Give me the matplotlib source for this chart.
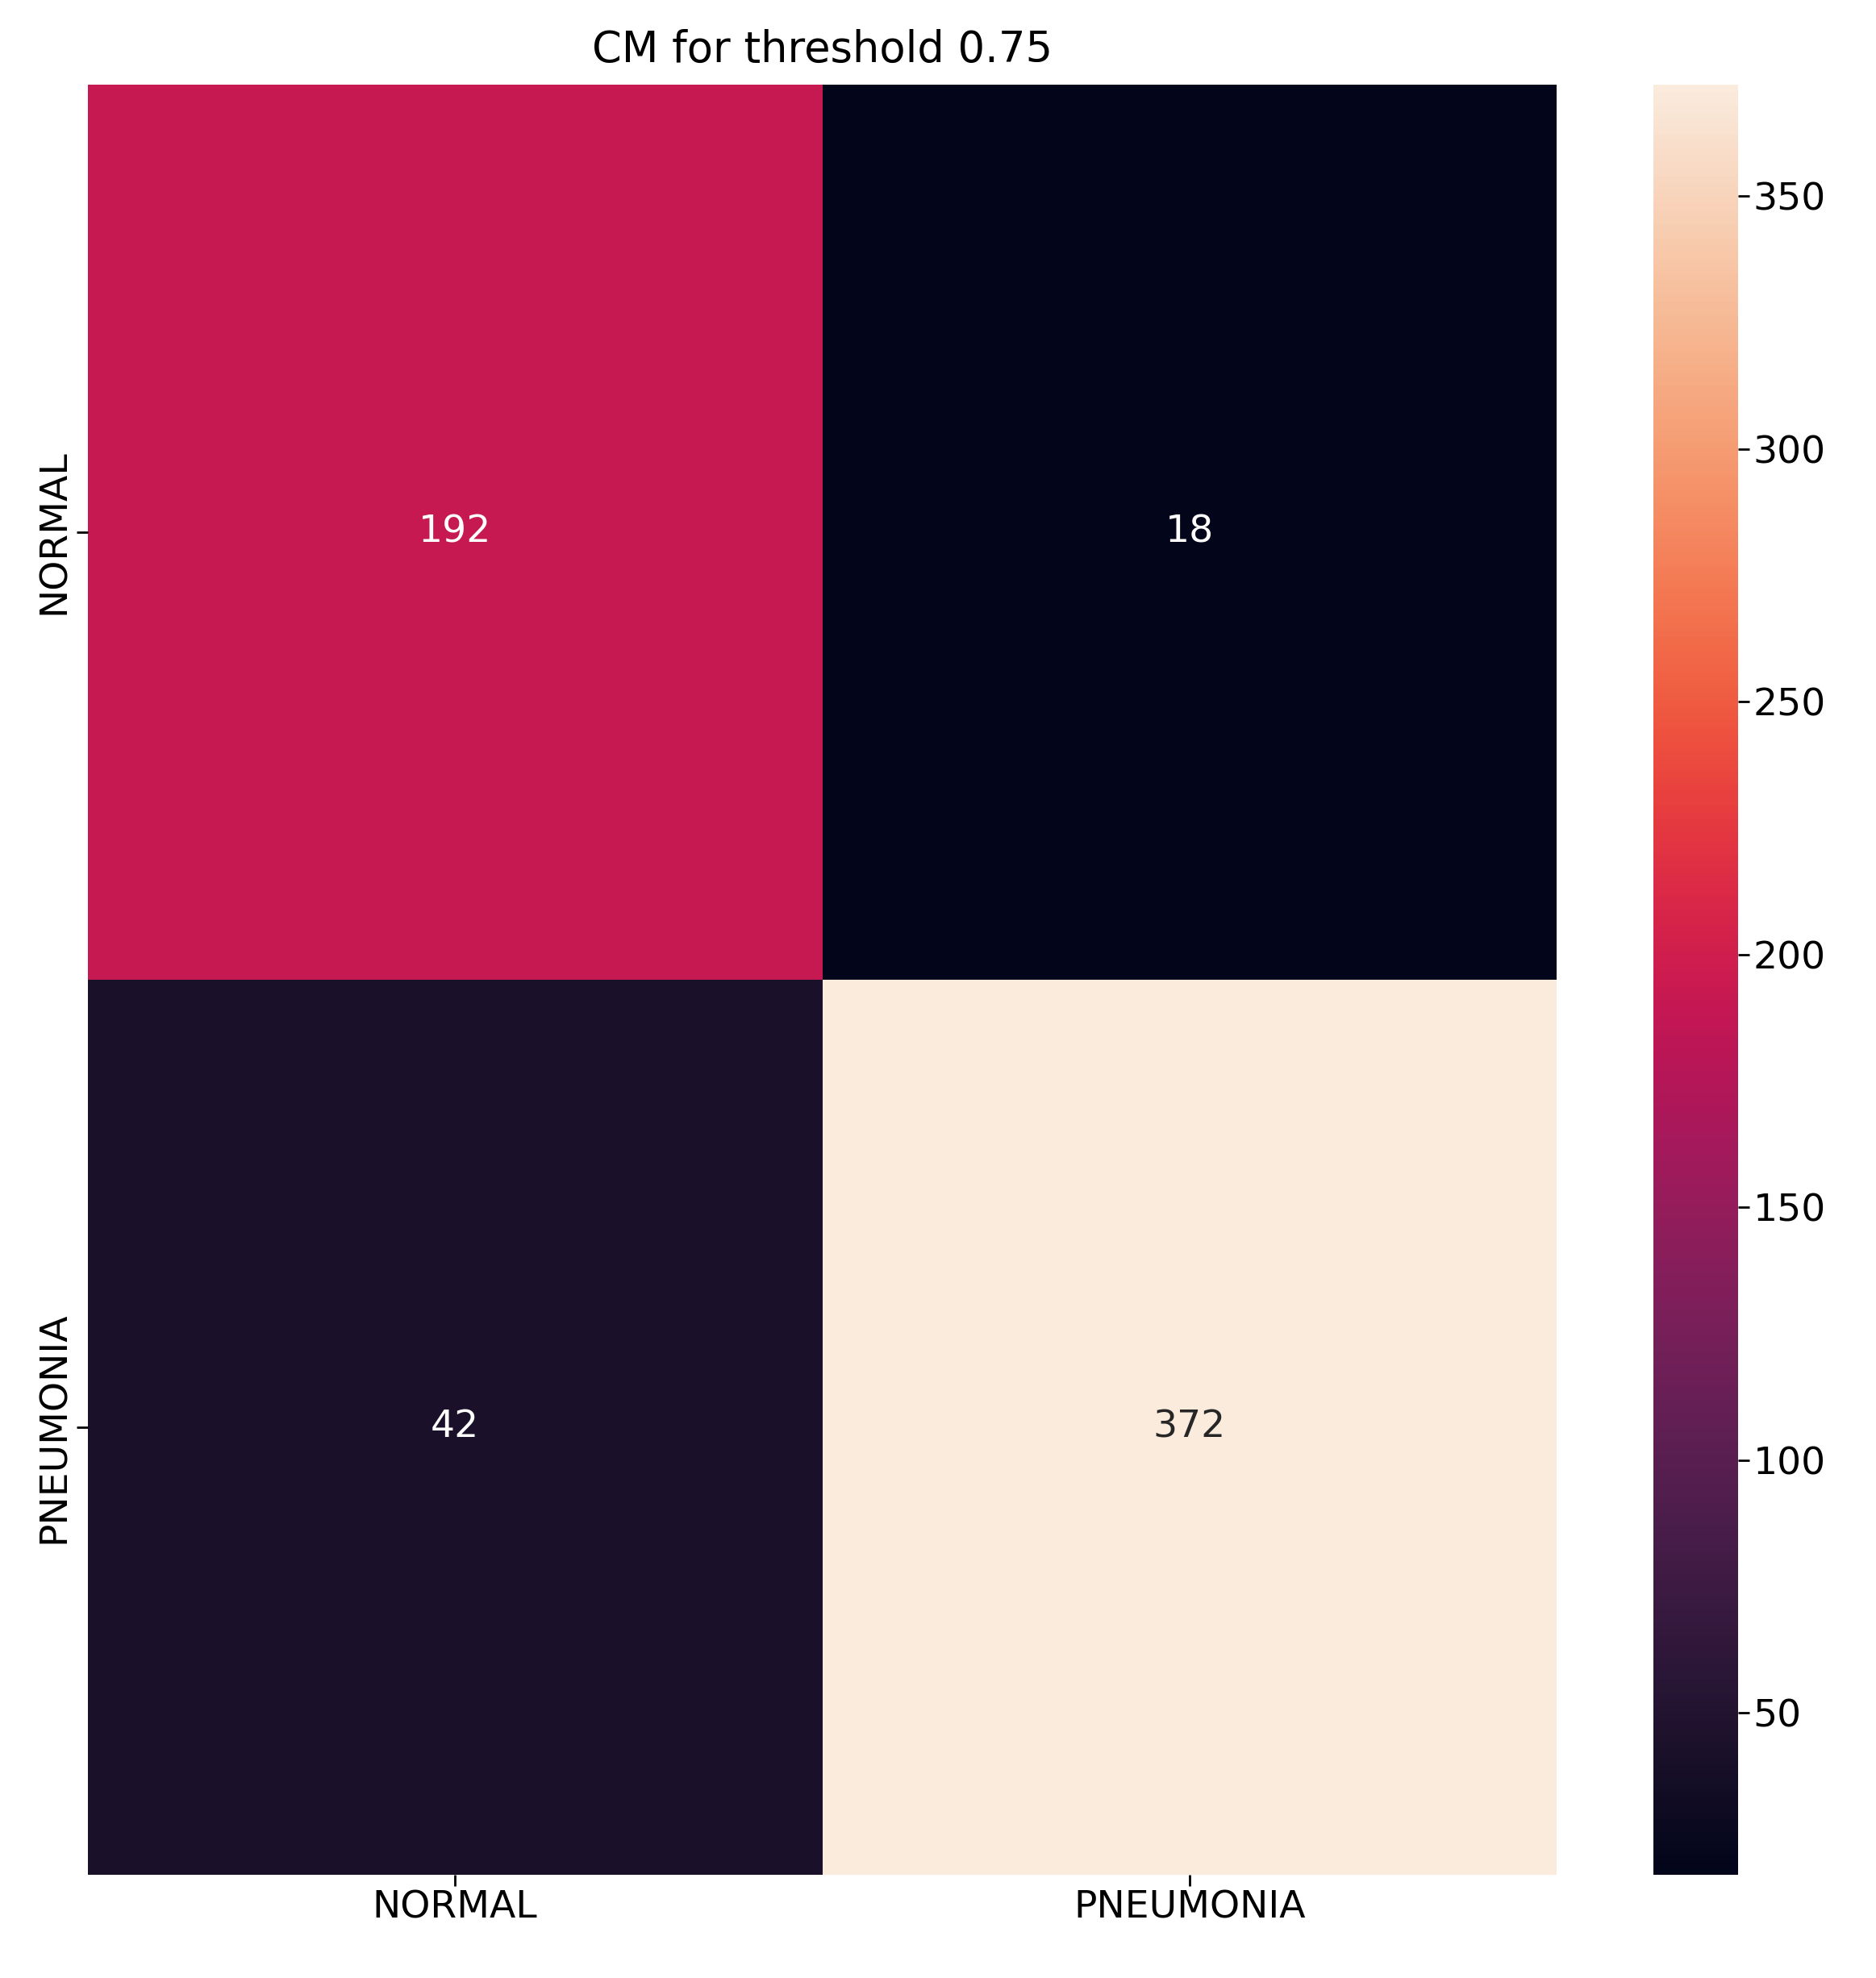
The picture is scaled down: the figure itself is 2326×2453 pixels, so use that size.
import numpy as np
import matplotlib
matplotlib.use("Agg")
import matplotlib.pyplot as plt
import seaborn as sns

labels = ["NORMAL", "PNEUMONIA"]
cm = np.array([[192, 18],
               [42, 372]])

fig = plt.figure(figsize=(23.26, 24.53), dpi=100)
ax = fig.add_axes([109 / 2326, 1 - 2325 / 2453, (1930 - 109) / 2326, (2325 - 105) / 2453])
cax = fig.add_axes([2050 / 2326, 1 - 2325 / 2453, (2155 - 2050) / 2326, (2325 - 105) / 2453])

sns.heatmap(cm, annot=True, fmt="d", ax=ax, cbar_ax=cax,
            xticklabels=labels, yticklabels=labels,
            annot_kws={"size": 34})
ax.set_title("CM for threshold 0.75", fontsize=38, pad=20)
ax.tick_params(labelsize=34, length=10, width=2)
cax.tick_params(labelsize=34, length=10, width=2)
cax.set_yticks([50, 100, 150, 200, 250, 300, 350])

fig.savefig("out.png", dpi=100)
